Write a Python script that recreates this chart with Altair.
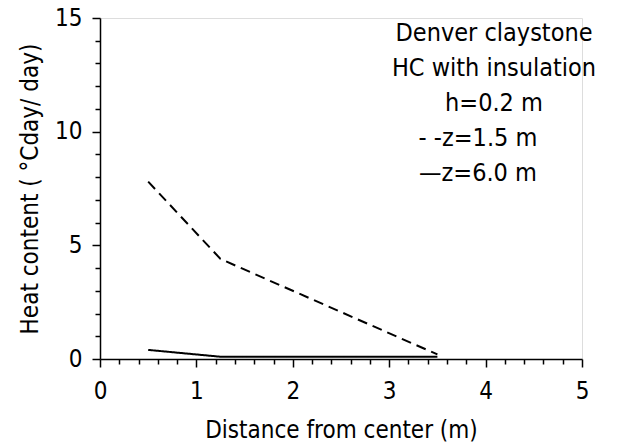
import altair as alt
import pandas as pd

# Data
distance = [0.5, 1.25, 3.5]
heat_z15 = [7.8, 4.4, 0.2]
heat_z60 = [0.4, 0.1, 0.1]

x_ticks = [round(i * 0.2, 1) for i in range(26)]
y_ticks = list(range(16))

legend_lines = ["Denver claystone", "HC with insulation", "h=0.2 m", "- -z=1.5 m", "\u2014z=6.0 m"]
title_text = "(a)"

FONT = "DejaVu Sans Condensed"

df = pd.DataFrame({
    "d": distance * 2,
    "h": heat_z15 + heat_z60,
    "s": ["z=1.5 m"] * len(distance) + ["z=6.0 m"] * len(distance),
})

major_test = "abs(datum.value - round(datum.value)) < 1e-6"
major5_test = "datum.value % 5 === 0"

x_enc = alt.X(
    "d:Q",
    scale=alt.Scale(domain=[0, 5], nice=False),
    axis=alt.Axis(
        values=x_ticks,
        title="Distance from center (m)",
        labelExpr=f"{major_test} ? format(datum.value, 'd') : ''",
        tickSize={"condition": {"test": major_test, "value": 8}, "value": 5},
        grid=False,
        domainColor="black", tickColor="black", labelColor="black", titleColor="black",
        labelFont=FONT, titleFont=FONT, labelFontSize=24, titleFontSize=24,
        titleFontWeight="normal", labelPadding=12, titlePadding=15,
        domainWidth=1.5, tickWidth=1.5, labelFlush=False, labelOverlap=False,
    ),
)
y_enc = alt.Y(
    "h:Q",
    scale=alt.Scale(domain=[0, 15], nice=False),
    axis=alt.Axis(
        values=y_ticks,
        title="Heat content ( \u00b0Cday/ day)",
        labelExpr=f"{major5_test} ? format(datum.value, 'd') : ''",
        tickSize={"condition": {"test": major5_test, "value": 8}, "value": 5},
        grid=False,
        domainColor="black", tickColor="black", labelColor="black", titleColor="black",
        labelFont=FONT, titleFont=FONT, labelFontSize=24, titleFontSize=24,
        titleFontWeight="normal", labelPadding=10, titlePadding=12,
        domainWidth=1.5, tickWidth=1.5, labelFlush=False, labelOverlap=False,
    ),
)

lines = alt.Chart(df).mark_line(color="black", strokeWidth=2).encode(
    x=x_enc,
    y=y_enc,
    detail="s:N",
    strokeDash=alt.StrokeDash(
        "s:N",
        scale=alt.Scale(domain=["z=1.5 m", "z=6.0 m"], range=[[10, 6], [1, 0]]),
        legend=None,
    ),
)

leg_y = [33, 68, 103, 138, 173]
leg_x = [494, 494, 494, 478, 478]
texts = []
for i, t in enumerate(legend_lines):
    texts.append(
        alt.Chart(pd.DataFrame({"t": [t]})).mark_text(
            font=FONT, fontSize=25, color="black", align="center", baseline="middle"
        ).encode(text="t:N", x=alt.value(leg_x[i] - 100), y=alt.value(leg_y[i] - 18))
    )

title_txt = alt.Chart(pd.DataFrame({"t": [title_text]})).mark_text(
    font=FONT, fontSize=24, color="black", align="center", baseline="alphabetic", clip=False
).encode(text="t:N", x=alt.value(217), y=alt.value(-22))

chart = alt.layer(lines, *texts, title_txt).properties(
    width=482, height=341,
    autosize=alt.AutoSizeParams(type="none"),
    padding={"left": 100, "top": 18, "right": 45, "bottom": 88},
).configure_view(stroke="black", strokeWidth=1.5).configure(background="white")

chart.save("out.html", embed_options={"renderer": "svg", "actions": False})
